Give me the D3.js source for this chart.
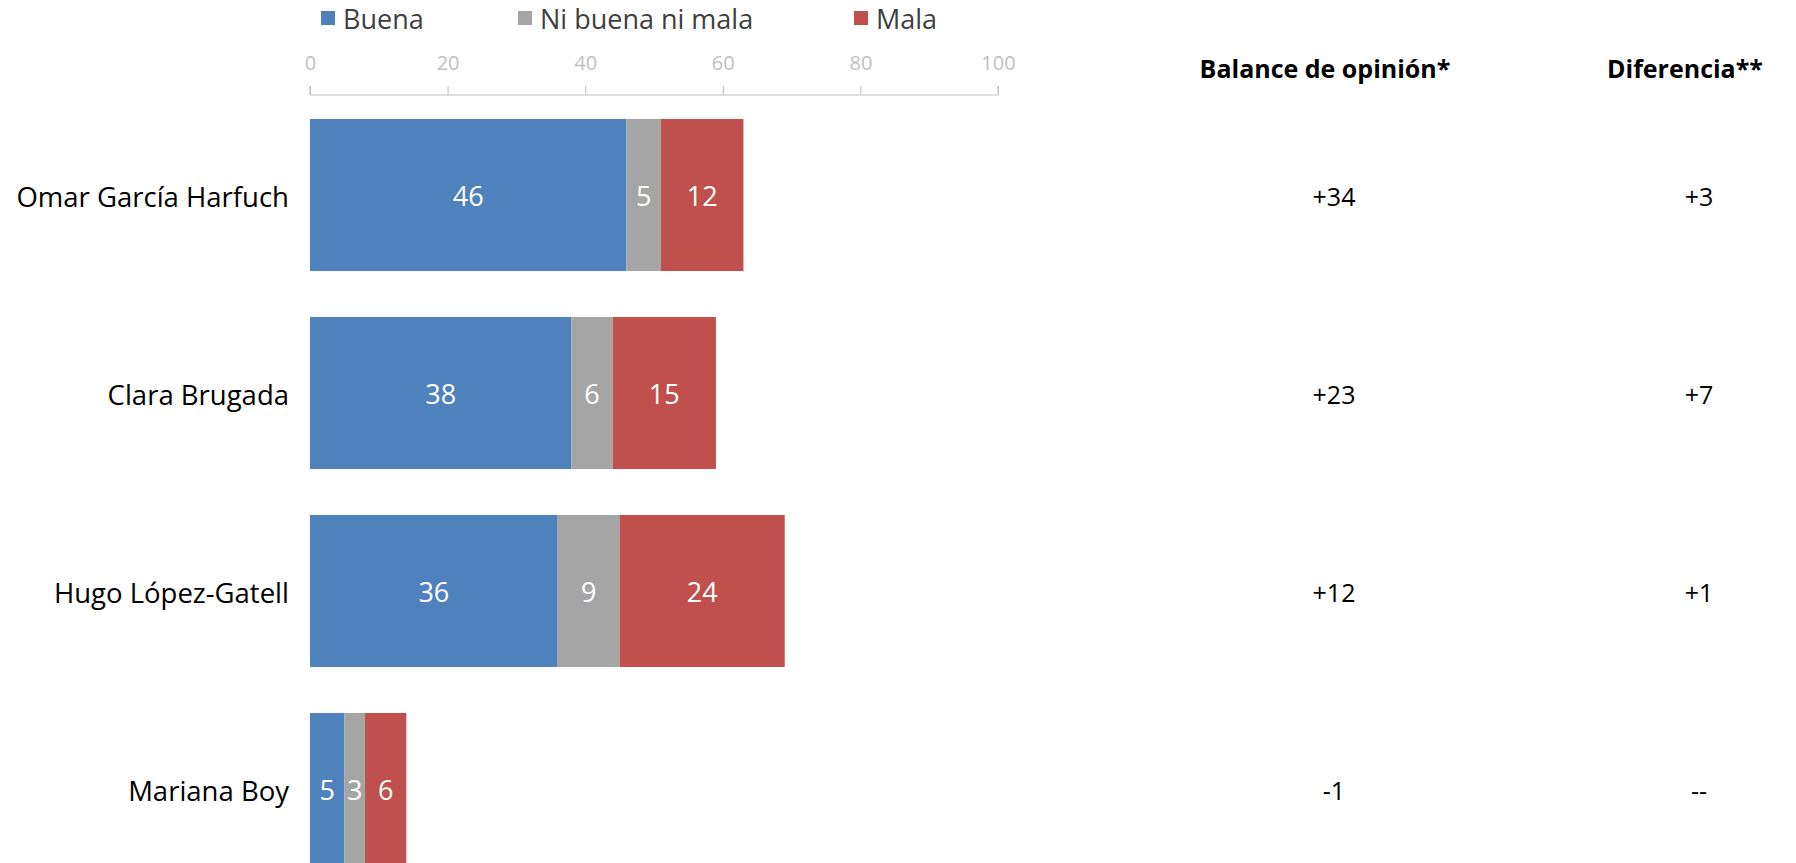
<!DOCTYPE html>
<html>
<head>
<meta charset="utf-8">
<script src="https://cdn.jsdelivr.net/npm/d3@7/dist/d3.min.js"></script>
<style>
html, body { margin: 0; padding: 0; background: #fff; overflow: hidden; }
svg { display: block; font-family: "Open Sans", "Noto Sans", sans-serif; }
</style>
</head>
<body>
<svg id="chart" width="1796" height="863"></svg>
<script>
const names = ["Omar García Harfuch", "Clara Brugada", "Hugo López-Gatell", "Mariana Boy"];
const seriesNames = ["Buena", "Ni buena ni mala", "Mala"];
const buena = [46, 38, 36, 5];
const neutral = [5, 6, 9, 3];
const mala = [12, 15, 24, 6];
const balance = ["+34", "+23", "+12", "-1"];
const diferencia = ["+3", "+7", "+1", "--"];
const xTicks = [0, 20, 40, 60, 80, 100];
const colors = ["#4f81bd", "#a5a5a5", "#c0504d"];

const svg = d3.select("#chart");

const x = d3.scaleLinear().domain([0, 100]).range([310, 998]);
const y = d3.scaleBand().domain(names).range([96, 888]).paddingInner(0.232).paddingOuter(0.116);

const rows = names.map((n, i) => ({ name: n, Buena: buena[i], "Ni buena ni mala": neutral[i], Mala: mala[i] }));
const stacked = d3.stack().keys(seriesNames)(rows);

// Axis (top)
const axis = d3.axisTop(x).tickValues(xTicks).tickSize(9).tickPadding(16);
const gAxis = svg.append("g").attr("transform", "translate(0,95)").call(axis);
gAxis.select(".domain").attr("stroke", "#bfbfbf").attr("d", `M${x(0)},-9V0H${x(100)}V-9`);
gAxis.selectAll(".tick line").attr("stroke", "#bfbfbf");
gAxis.selectAll(".tick text").attr("fill", "#bfbfbf").style("font-size", "20px").style("font-family", "'Open Sans', sans-serif");

// Bars
const layers = svg.append("g").selectAll("g").data(stacked).join("g").attr("fill", (d, i) => colors[i]);
layers.selectAll("rect").data(d => d).join("rect")
  .attr("x", d => x(d[0]))
  .attr("y", d => y(d.data.name))
  .attr("width", d => x(d[1]) - x(d[0]))
  .attr("height", y.bandwidth());

// Value labels
layers.selectAll("text").data(d => d).join("text")
  .attr("x", d => (x(d[0]) + x(d[1])) / 2)
  .attr("y", d => y(d.data.name) + y.bandwidth() / 2)
  .attr("dy", "0.42em")
  .attr("text-anchor", "middle")
  .attr("fill", "#fff")
  .style("font-size", "27px")
  .text(d => d[1] - d[0]);

// Category labels
svg.append("g").selectAll("text").data(names).join("text")
  .attr("x", 289)
  .attr("y", d => y(d) + y.bandwidth() / 2)
  .attr("dy", "0.42em")
  .attr("text-anchor", "end")
  .attr("fill", "#000")
  .style("font-size", "27.5px")
  .text(d => d);

// Right columns
const colBalance = 1334, colDif = 1699;
svg.append("text").attr("x", 1325).attr("y", 69).attr("dy", "0.35em").attr("text-anchor", "middle")
  .style("font-size", "25px").style("font-weight", "bold").text("Balance de opinión*");
svg.append("text").attr("x", 1685).attr("y", 69).attr("dy", "0.35em").attr("text-anchor", "middle")
  .style("font-size", "25px").style("font-weight", "bold").text("Diferencia**");

svg.append("g").selectAll("text").data(names).join("text")
  .attr("x", colBalance)
  .attr("y", d => y(d) + y.bandwidth() / 2)
  .attr("dy", "0.42em").attr("text-anchor", "middle")
  .style("font-size", "25px")
  .text((d, i) => balance[i]);
svg.append("g").selectAll("text").data(names).join("text")
  .attr("x", colDif)
  .attr("y", d => y(d) + y.bandwidth() / 2)
  .attr("dy", "0.42em").attr("text-anchor", "middle")
  .style("font-size", "25px")
  .text((d, i) => diferencia[i]);

// Legend
const legendX = [321, 518, 854];
const lg = svg.append("g").selectAll("g").data(seriesNames).join("g")
  .attr("transform", (d, i) => `translate(${legendX[i]},0)`);
lg.append("rect").attr("x", 0).attr("y", 11).attr("width", 14).attr("height", 14).attr("fill", (d, i) => colors[i]);
lg.append("text").attr("x", 22).attr("y", 19).attr("dy", "0.38em")
  .attr("fill", "#404040").style("font-size", "27px").text(d => d);
</script>
</body>
</html>
